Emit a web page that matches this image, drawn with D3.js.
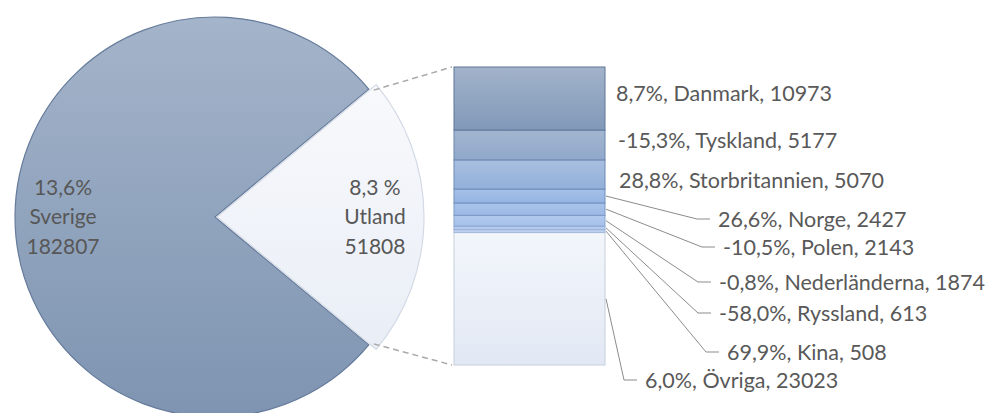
<!DOCTYPE html>
<html>
<head>
<meta charset="utf-8">
<script src="https://cdn.jsdelivr.net/npm/d3@7"></script>
<style>
body { margin: 0; background: #fff; }
text { font-family: Lato, "Open Sans", sans-serif; }
</style>
</head>
<body>
<svg id="chart"></svg>
<script>
// pie data
var pieNames = ["Utland", "Sverige"];
var pieValues = [51808, 182807];
var pieChanges = ["8,3 %", "13,6%"];

// bar-of-pie breakdown of Utland
var countries = ["Danmark", "Tyskland", "Storbritannien", "Norge", "Polen", "Nederländerna", "Ryssland", "Kina", "Övriga"];
var values = [10973, 5177, 5070, 2427, 2143, 1874, 613, 508, 23023];
var changes = ["8,7%", "-15,3%", "28,8%", "26,6%", "-10,5%", "-0,8%", "-58,0%", "69,9%", "6,0%"];

// layout / style
var labelX = [616, 618, 619, 718, 723, 719, 719, 727, 645];
var labelY = [93, 140, 180, 219, 247, 282, 313, 352, 380];
var hasLeader = [false, false, false, true, true, true, true, true, true];
var segTop = ["#a2b3ca", "#a3b6d0", "#a8bfe0", "#a6c1e9", "#aac4ea", "#b3caee", "#bccff0", "#c4d5f1", "#f3f6fb"];
var segBot = ["#8199b9", "#8fa8ca", "#93b0d9", "#95b4e1", "#9cb8e4", "#a5c0e9", "#b0c7ec", "#b8cdee", "#e2e8f4"];
var segStroke = ["#5f7799", "#6a86ad", "#6a89b5", "#6f8fbe", "#7a99c6", "#8aa6cf", "#98b1d6", "#a5bbdc", "#c6cfdd"];

var svg = d3.select("#chart").attr("width", 994).attr("height", 413);

var cx = 215, cy = 217, r = 200;
var barX = 454, barW = 151, barTop = 67, barBottom = 365;

var defs = svg.append("defs");

function grad(id, c1, c2) {
	var g = defs.append("linearGradient")
		.attr("id", id)
		.attr("x1", 0).attr("y1", 0)
		.attr("x2", 0).attr("y2", 1);
	g.append("stop").attr("offset", "0%").attr("stop-color", c1);
	g.append("stop").attr("offset", "100%").attr("stop-color", c2);
}

grad("gSverige", "#a4b4ca", "#7e94b1");
grad("gUtland", "#f8f9fc", "#e9eef6");
countries.forEach(function(d, i) { grad("seg" + i, segTop[i], segBot[i]); });

// ---- pie ----
var total = d3.sum(pieValues);
var utAngle = pieValues[0] / total * 2 * Math.PI;

var pie = d3.pie()
	.sort(null)
	.startAngle(Math.PI / 2 - utAngle / 2)
	.endAngle(Math.PI / 2 - utAngle / 2 + 2 * Math.PI);

var arcs = pie(pieValues);

var arcMain = d3.arc().innerRadius(0).outerRadius(r);
var arcOut = d3.arc().innerRadius(0).outerRadius(r + 7);

var pieG = svg.append("g").attr("transform", "translate(" + cx + "," + cy + ")");

pieG.append("path")
	.attr("d", arcMain(arcs[1]))
	.attr("fill", "url(#gSverige)")
	.attr("stroke", "#667b9b")
	.attr("stroke-width", 1.2);

pieG.append("path")
	.attr("transform", "translate(2,0)")
	.attr("d", arcOut(arcs[0]))
	.attr("fill", "url(#gUtland)")
	.attr("stroke", "#d3dae6")
	.attr("stroke-width", 1.2);

var labelR = [0.8, 0.76];
pieG.selectAll(".pielabel")
	.data(arcs)
	.enter()
	.append("text")
		.attr("class", "pielabel")
		.attr("text-anchor", "middle")
		.attr("fill", "#575757")
		.style("font-size", "21px")
		.each(function(d, i) {
			var lr = r * labelR[i];
			var c = d3.arc().innerRadius(lr).outerRadius(lr).centroid(d);
			var t = d3.select(this);
			var lines = [pieChanges[i], pieNames[i], pieValues[i]];
			lines.forEach(function(s, k) {
				t.append("tspan")
					.attr("x", c[0])
					.attr("y", c[1] + (k - 1) * 29.5)
					.attr("dy", "0.35em")
					.text(s);
			});
		});

// ---- bar ----
var sumUt = d3.sum(values);
var yScale = d3.scaleLinear().domain([0, sumUt]).range([barTop, barBottom]);
var ends = d3.cumsum(values);
var starts = ends.map(function(e, i) { return e - values[i]; });

// connecting dashed lines
var a0 = arcs[0];
var upper = [cx + r * Math.sin(a0.startAngle), cy - r * Math.cos(a0.startAngle)];
var lower = [cx + r * Math.sin(a0.endAngle), cy - r * Math.cos(a0.endAngle)];

svg.append("line")
	.attr("x1", upper[0] + 5).attr("y1", upper[1] + 1)
	.attr("x2", barX - 2).attr("y2", yScale(0))
	.attr("stroke", "#a9a9a9").attr("stroke-width", 1.5)
	.attr("stroke-dasharray", "6,4");

svg.append("line")
	.attr("x1", lower[0] + 5).attr("y1", lower[1] - 1)
	.attr("x2", barX - 2).attr("y2", yScale(sumUt))
	.attr("stroke", "#a9a9a9").attr("stroke-width", 1.5)
	.attr("stroke-dasharray", "6,4");

var bars = svg.append("g").attr("id", "bars");

// draw Övriga first so the darker borders sit on top
var order = d3.range(values.length).reverse();
bars.selectAll("rect")
	.data(order)
	.enter()
	.append("rect")
		.attr("x", barX)
		.attr("y", function(i) { return yScale(starts[i]); })
		.attr("width", barW)
		.attr("height", function(i) { return yScale(ends[i]) - yScale(starts[i]); })
		.attr("fill", function(i) { return "url(#seg" + i + ")"; })
		.attr("stroke", function(i) { return segStroke[i]; })
		.attr("stroke-width", 1);

// leader lines
var leaders = svg.append("g").attr("id", "leaders");
countries.forEach(function(c, i) {
	if (!hasLeader[i]) return;
	var my = yScale((starts[i] + ends[i]) / 2);
	var pts = [
		[barX + barW + 1, my],
		[labelX[i] - 21, labelY[i]],
		[labelX[i] - 8, labelY[i]]
	];
	leaders.append("path")
		.attr("d", d3.line()(pts))
		.attr("fill", "none")
		.attr("stroke", "#8c8c8c")
		.attr("stroke-width", 1);
});

// labels
svg.append("g").selectAll("text")
	.data(countries)
	.enter()
	.append("text")
		.attr("x", function(d, i) { return labelX[i]; })
		.attr("y", function(d, i) { return labelY[i]; })
		.attr("dy", "0.35em")
		.attr("fill", "#595959")
		.style("font-size", "21.5px")
		.text(function(d, i) { return changes[i] + ", " + d + ", " + values[i]; });
</script>
</body>
</html>
